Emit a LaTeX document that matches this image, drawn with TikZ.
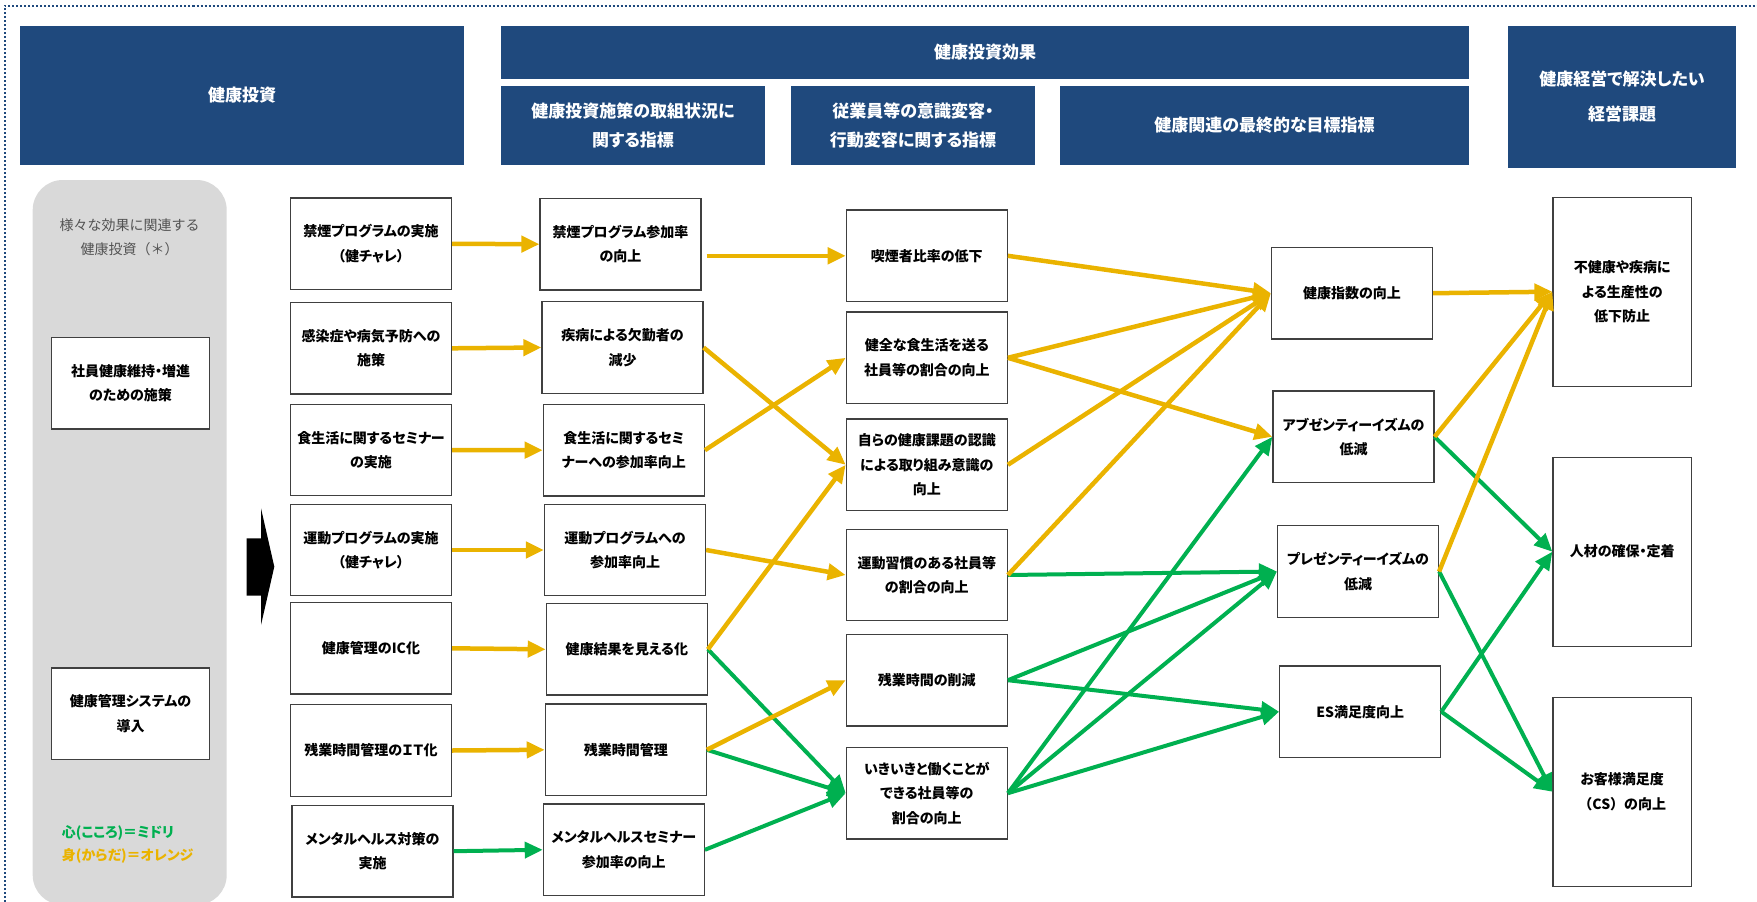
\documentclass[tikz,border=0pt]{standalone}
\usepackage{fontspec}
\setmainfont{Noto Sans CJK JP}[RawFeature=+palt]
\newfontfamily\widefont{Noto Sans CJK JP}
\usetikzlibrary{arrows.meta}
\definecolor{hdrblue}{RGB}{31,73,125}
\definecolor{kidorange}{RGB}{234,179,0}
\definecolor{kidgreen}{RGB}{0,176,80}
\definecolor{panelgray}{RGB}{217,217,217}

\begin{document}
\begin{tikzpicture}[x=1pt,y=-1pt,
	hdr/.style={fill=hdrblue,text=white,inner sep=0pt,align=center,font=\fontsize{17}{29}\selectfont\bfseries},
	box/.style={draw=black!75,line width=1.2pt,fill=white,minimum width=161pt,minimum height=91.5pt,inner sep=0pt,align=center,font=\fontsize{14}{24.5}\selectfont\bfseries},
	goal/.style={box,minimum width=138.5pt,minimum height=189pt},
	body/.style={draw=kidorange,line width=4.5pt,-{Triangle[length=18pt,width=16pt]}},
	mind/.style={body,draw=kidgreen,line width=4pt}]
	\useasboundingbox (0,0) rectangle (1757,902);
	\clip (0,0) rectangle (1757,902);
	\draw[hdrblue,line width=2pt,dash pattern=on 2pt off 2pt] (4.5,910) -- (4.5,6) -- (1765,6);
	
	% headers
	\node[hdr,minimum width=444pt,minimum height=139pt] (hinv) at (242,95.5) {健康投資};
	\node[hdr,minimum width=968pt,minimum height=53pt] (heff) at (985,52.5) {健康投資効果};
	\node[hdr,minimum width=264pt,minimum height=79pt] (hact) at (633,125.5) {健康投資施策の取組状況に\\関する指標};
	\node[hdr,minimum width=244pt,minimum height=79pt] (hbeh) at (913,125.5) {従業員等の意識変容・\\行動変容に関する指標};
	\node[hdr,minimum width=409pt,minimum height=79pt] (hfin) at (1264.5,125.5) {健康関連の最終的な目標指標};
	\node[hdr,minimum width=228pt,minimum height=142pt,font=\fontsize{17}{35}\selectfont\bfseries] (hmgt) at (1622,97) {健康経営で解決したい\\経営課題};
	
	% left panel
	\fill[panelgray,rounded corners=30pt] (32.7,180) rectangle (226.7,905);
	\node[align=center,text=black!68,font=\widefont\fontsize{14}{24}\selectfont] (note) at (129.7,237) {様々な効果に関連する\\健康投資（＊）};
	\node[box,minimum width=158.4pt] (S1) at (130.5,383.3) {社員健康維持・増進\\のための施策};
	\node[box,minimum width=158.4pt] (S2) at (130.5,713.8) {健康管理システムの\\導入};
	\node[anchor=west,inner sep=0pt,text=kidgreen,font=\fontsize{14}{16}\selectfont\bfseries] (lgmind) at (61.7,833.3) {心(こころ)＝ミドリ};
	\node[anchor=west,inner sep=0pt,text=kidorange,font=\fontsize{14}{16}\selectfont\bfseries] (lgbody) at (61.7,855.5) {身(からだ)＝オレンジ};
	\fill (246.7,538.3) -- (261,538.3) -- (261,508.3) -- (274.3,566.7) -- (261,625) -- (261,595.7) -- (246.7,595.7) -- cycle;
	
	\foreach \nm/\xx/\yy/\txt in {
		C1a/371/243.8/{禁煙プログラムの実施\\（健チャレ）},
		C1b/371/348.3/{感染症や病気予防への\\施策},
		C1c/371/450/{食生活に関するセミナー\\の実施},
		C1d/371/550/{運動プログラムの実施\\（健チャレ）},
		C1e/371/648.3/{健康管理のIC化},
		C1f/371/750.5/{残業時間管理のＩＴ化},
		C1g/372.5/851.2/{メンタルヘルス対策の\\実施},
		C2a/620.5/244.2/{禁煙プログラム参加率\\の向上},
		C2b/622.5/347.5/{疾病による欠勤者の\\減少},
		C2c/623.8/450.2/{食生活に関するセミ\\ナーへの参加率向上},
		C2d/625/550/{運動プログラムへの\\参加率向上},
		C2e/626.8/649.3/{健康結果を見える化},
		C2f/625.8/749.8/{残業時間管理},
		C2g/623.8/849.8/{メンタルヘルスセミナー\\参加率の向上},
		C3a/926.8/255.8/{喫煙者比率の低下},
		C3b/926.8/357.8/{健全な食生活を送る\\社員等の割合の向上},
		C3c/926.8/464.8/{自らの健康課題の認識\\による取り組み意識の\\向上},
		C3d/926.8/575/{運動習慣のある社員等\\の割合の向上},
		C3e/926.8/680.2/{残業時間の削減},
		C3f/926.8/793.2/{いきいきと働くことが\\できる社員等の\\割合の向上},
		C4a/1352/293.2/{健康指数の向上},
		C4b/1353.5/436.8/{アブゼンティーイズムの\\低減},
		C4c/1358/571.5/{プレゼンティーイズムの\\低減},
		C4d/1360.2/711.7/{ES満足度向上}}
		\node[box] (\nm) at (\xx,\yy) {\txt};
	\node[goal] (C5a) at (1622.2,291.7) {不健康や疾病に\\よる生産性の\\低下防止};
	\node[goal] (C5b) at (1622.2,551.7) {人材の確保・定着};
	\node[goal] (C5c) at (1622.2,791.7) {お客様満足度\\{\widefont（CS）}の向上};
	
	\foreach \a/\b in {C1g/C2g,C2e/C3f,C2f/C3f,C2g/C3f,C3d/C4c,C3e/C4c,C3f/C4c,C3e/C4d,C3f/C4d,C3f/C4b,C4b/C5b,C4d/C5b,C4c/C5c,C4d/C5c}
		\draw[mind] (\a.east) -- (\b.west);
	\foreach \a/\b in {C1a/C2a,C1b/C2b,C1c/C2c,C1d/C2d,C1e/C2e,C1f/C2f,C2b/C3c,C2c/C3b,C2d/C3d,C2e/C3c,C2f/C3e,C3a/C4a,C3b/C4a,C3c/C4a,C3d/C4a,C3b/C4b,C4a/C5a,C4b/C5a,C4c/C5a}
		\draw[body] (\a.east) -- (\b.west);
	\draw[body,shorten <=5pt] (C2a.east |- C3a.west) -- (C3a.west);
\end{tikzpicture}
\end{document}
